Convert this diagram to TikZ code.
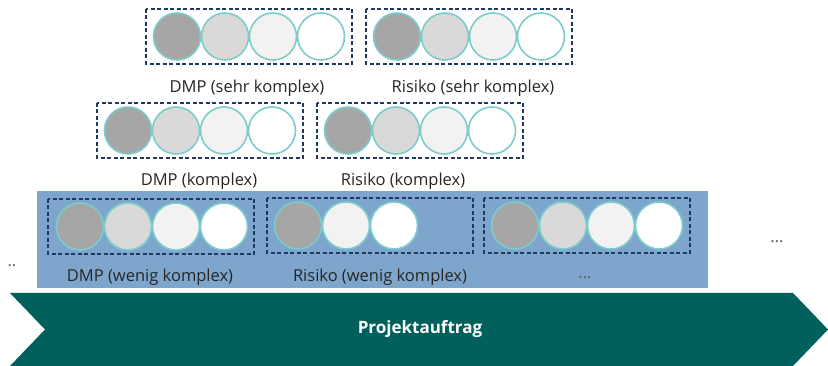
\documentclass[tikz,border=0pt]{standalone}
\usepackage{fontspec}
\setmainfont{Open Sans}
\usepackage{tikz}
\definecolor{ringteal}{RGB}{125,204,204}
\definecolor{boxnavy}{RGB}{31,56,100}
\definecolor{bandblue}{RGB}{126,166,204}
\definecolor{arrowteal}{RGB}{0,97,92}
\definecolor{fillA}{RGB}{166,166,166}
\definecolor{fillB}{RGB}{217,217,217}
\definecolor{fillC}{RGB}{242,242,242}
\definecolor{lbltext}{RGB}{38,38,38}

\begin{document}
\begin{tikzpicture}[x=1pt,y=-1pt,
	ring/.style={draw=ringteal,line width=1.6pt},
	groupbox/.style={draw=boxnavy,line width=1.5pt,dash pattern=on 4pt off 2.5pt},
	lbl/.style={font=\fontsize{16.5}{18}\selectfont,text=lbltext},
	dots/.style={font=\fontsize{16.5}{18}\selectfont,text=lbltext!75}]
	\useasboundingbox (0,0) rectangle (828,366);
	% Projektauftrag arrow
	\fill[arrowteal] (10,293) -- (793,293) -- (828,329.5) -- (793,366) -- (10,366) -- (45,329.5) -- cycle;
	\node[font=\fontsize{17}{19}\selectfont\bfseries,text=white] (auftrag) at (420,329.5) {Projektauftrag};
	% blue band
	\fill[bandblue] (37,191) rectangle (708,288);
	% sehr komplex
	\draw[groupbox] (146,9) rectangle (352,64);
	\draw[ring,fill=fillA] (177,36.5) circle (23.5);
	\draw[ring,fill=fillB] (225,36.5) circle (23.5);
	\draw[ring,fill=fillC] (273,36.5) circle (23.5);
	\draw[ring,fill=white] (321,36.5) circle (23.5);
	\draw[groupbox] (366,9) rectangle (572,64);
	\draw[ring,fill=fillA] (397,36.5) circle (23.5);
	\draw[ring,fill=fillB] (445,36.5) circle (23.5);
	\draw[ring,fill=fillC] (493,36.5) circle (23.5);
	\draw[ring,fill=white] (541,36.5) circle (23.5);
	\node[lbl] (dmpsehr) at (247,88) {DMP (sehr komplex)};
	\node[lbl] (risikosehr) at (473,88) {Risiko (sehr komplex)};
	% komplex
	\draw[groupbox] (97,103) rectangle (303,158);
	\draw[ring,fill=fillA] (128,130.5) circle (23.5);
	\draw[ring,fill=fillB] (176,130.5) circle (23.5);
	\draw[ring,fill=fillC] (224,130.5) circle (23.5);
	\draw[ring,fill=white] (272,130.5) circle (23.5);
	\draw[groupbox] (317,103) rectangle (523,158);
	\draw[ring,fill=fillA] (348,130.5) circle (23.5);
	\draw[ring,fill=fillB] (396,130.5) circle (23.5);
	\draw[ring,fill=fillC] (444,130.5) circle (23.5);
	\draw[ring,fill=white] (492,130.5) circle (23.5);
	\node[lbl] (dmpkomplex) at (199,181) {DMP (komplex)};
	\node[lbl] (risikokomplex) at (403,181) {Risiko (komplex)};
	% wenig komplex
	\draw[groupbox] (48,199) rectangle (254,254);
	\draw[ring,fill=fillA] (80,226.5) circle (23.5);
	\draw[ring,fill=fillB] (128,226.5) circle (23.5);
	\draw[ring,fill=fillC] (176,226.5) circle (23.5);
	\draw[ring,fill=white] (224,226.5) circle (23.5);
	\draw[groupbox] (267,198) rectangle (473,253);
	\draw[ring,fill=fillA] (298,225.5) circle (23.5);
	\draw[ring,fill=fillC] (346,225.5) circle (23.5);
	\draw[ring,fill=white] (394,225.5) circle (23.5);
	\draw[groupbox] (484,198) rectangle (690,253);
	\draw[ring,fill=fillA] (515,225.5) circle (23.5);
	\draw[ring,fill=fillB] (563,225.5) circle (23.5);
	\draw[ring,fill=fillC] (611,225.5) circle (23.5);
	\draw[ring,fill=white] (659,225.5) circle (23.5);
	\node[lbl] (dmpwenig) at (150,277) {DMP (wenig komplex)};
	\node[lbl] (risikowenig) at (380,277) {Risiko (wenig komplex)};
	% continuation dots
	\node[dots] (morewenig) at (585,278) {...};
	\node[dots] (moreright) at (777,242) {...};
	\node[dots] (moreleft) at (12,266) {..};
\end{tikzpicture}
\end{document}
